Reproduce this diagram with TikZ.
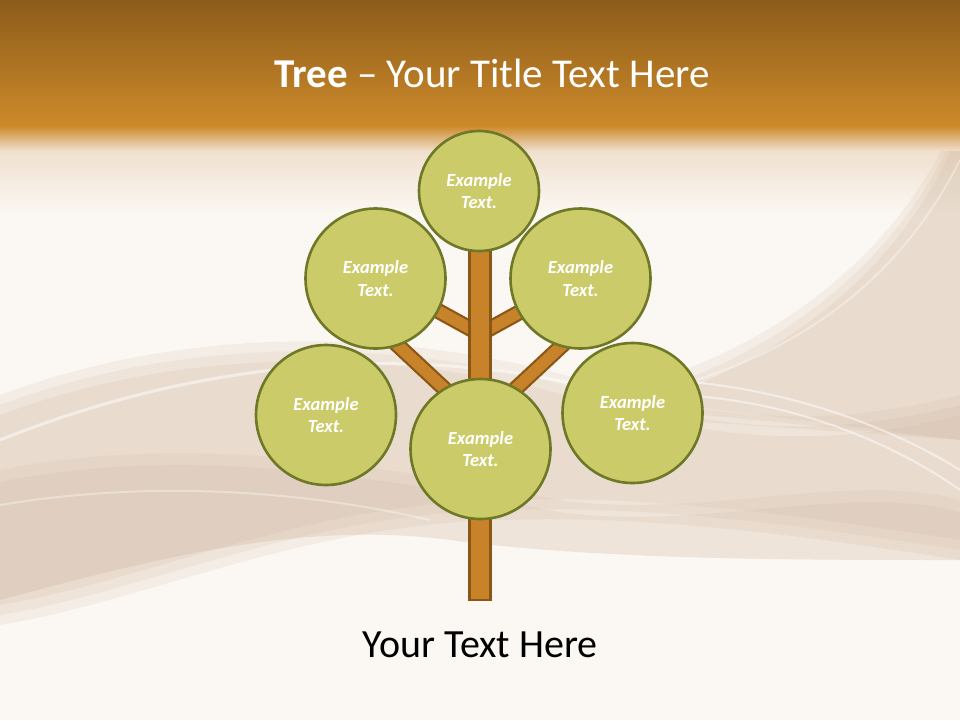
\documentclass[tikz,border=0pt]{standalone}
\usepackage{fontspec}
\setmainfont{Carlito}
\begin{document}
\begin{tikzpicture}[x=1pt,y=-1pt,
  leaf/.style={circle,draw=leafline,fill=leaffill,line width=2.6pt,inner sep=0pt,
     text=white,font=\fontsize{18.5}{22.5}\selectfont\bfseries\itshape,align=center},
  barout/.style={draw=barline,line width=16pt},
  barin/.style={draw=barfill,line width=11.5pt},
  wave/.style={fill=beige,opacity=0.15},
  glint/.style={draw=white,opacity=0.5,line width=2pt},
]
\definecolor{leaffill}{HTML}{CBCB6A}
\definecolor{leafline}{HTML}{6E7826}
\definecolor{barfill}{HTML}{C8832A}
\definecolor{barline}{HTML}{8A5816}
\definecolor{cream}{HTML}{FBF8F3}
\definecolor{beige}{HTML}{CDB39A}
\definecolor{peach}{HTML}{EEDCC8}
\definecolor{bandtop}{HTML}{8C5C1A}
\definecolor{bandbot}{HTML}{CD8A2A}
\useasboundingbox (0,0) rectangle (960,720);
% background
\fill[cream] (0,0) rectangle (960,720);
\shade[top color=peach,bottom color=cream] (0,140) rectangle (960,215);
% waves (layered for soft edges)
\foreach \d in {0,10,20}{
\fill[wave] (0,395+\d) .. controls (200,320+\d) and (420,330+\d) .. (600,385+\d)
   .. controls (750,430+\d) and (860,420+\d) .. (960,395+\d) -- (960,560-\d)
   .. controls (800,535-\d) and (650,515-\d) .. (500,520-\d)
   .. controls (300,525-\d) and (150,600-\d) .. (0,625-\d) -- cycle;
\fill[wave] (960,110+\d) .. controls (900,260+\d) and (760,360+\d) .. (600,395+\d)
   -- (960,440) -- cycle;
}
\foreach \d in {0,12}{
\fill[wave] (0,470+\d) .. controls (200,430+\d) and (400,470+\d) .. (560,500+\d)
   .. controls (700,520+\d) and (850,470+\d) .. (960,500+\d) -- (960,560)
   .. controls (800,560) and (600,560) .. (450,540)
   .. controls (300,520) and (150,560) .. (0,600) -- cycle;
}
\draw[glint,line width=3pt] (0,440) .. controls (200,360) and (400,345) .. (580,385);
\draw[glint] (620,380) .. controls (750,375) and (880,420) .. (960,470);
\draw[glint] (640,395) .. controls (770,390) and (890,440) .. (960,490);
\draw[glint,opacity=0.35] (0,505) .. controls (150,480) and (300,490) .. (430,520);
\draw[glint,opacity=0.35] (960,160) .. controls (900,280) and (800,350) .. (680,385);
% top band
\shade[top color=bandtop,bottom color=bandbot] (0,0) rectangle (960,126);
\shade[top color=bandbot,bottom color=peach] (0,126) rectangle (960,150);
% title
\node[anchor=base,text=white,font=\fontsize{41}{46}\selectfont,inner sep=0pt] (title) at (492,87)
  {\textbf{Tree} – Your Title Text Here};
% tree geometry
\coordinate (jlow) at (480,422);
\coordinate (jup) at (480,334);
\coordinate (ll) at (360,310);
\coordinate (lr) at (600,310);
\coordinate (ul) at (420,301);
\coordinate (ur) at (540,301);
% branches
\foreach \a/\b in {jlow/ll,jlow/lr,jup/ul,jup/ur}{
  \draw[barout] (\a) -- (\b);
  \draw[barin] (\a) -- (\b);
}
% trunk
\draw[barline,fill=barfill,line width=2.4pt] (469.5,245) rectangle (490.5,600);
% leaves
\node[leaf,minimum size=120pt] (top) at (479,191) {Example\\Text.};
\node[leaf,minimum size=140pt] (upl) at (375.5,278.5) {Example\\Text.};
\node[leaf,minimum size=140pt] (upr) at (580.5,278.5) {Example\\Text.};
\node[leaf,minimum size=140pt] (lef) at (326,415) {Example\\Text.};
\node[leaf,minimum size=140pt] (rig) at (632.5,413) {Example\\Text.};
\node[leaf,minimum size=140pt] (bot) at (480.5,449) {Example\\Text.};
% bottom text
\node[anchor=base,text=black,font=\fontsize{40}{46}\selectfont,inner sep=0pt] (foot) at (480,657)
  {Your Text Here};
\end{tikzpicture}
\end{document}
